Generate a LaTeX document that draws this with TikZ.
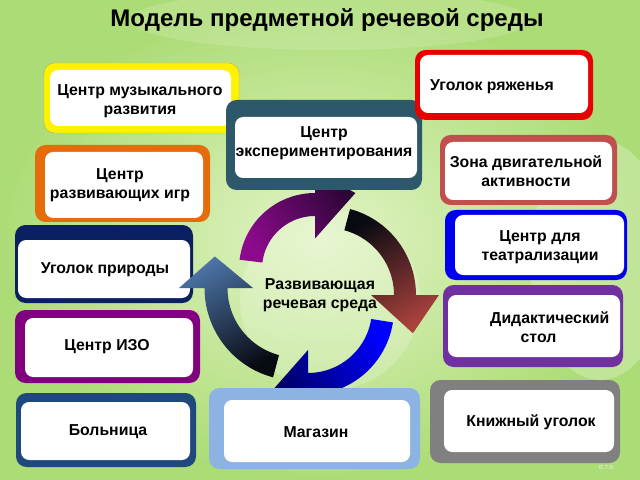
\documentclass[tikz,border=0pt]{standalone}
\usepackage{fontspec}
\setmainfont{Liberation Sans}

\definecolor{bgin}{RGB}{226,244,198}
\definecolor{bgout}{RGB}{172,220,118}
\definecolor{cteal}{RGB}{44,88,106}
\definecolor{corange}{RGB}{228,108,10}
\definecolor{cred}{RGB}{232,0,0}
\definecolor{cbrick}{RGB}{192,80,77}
\definecolor{cblue}{RGB}{0,0,240}
\definecolor{cviolet}{RGB}{112,48,160}
\definecolor{cnavy}{RGB}{10,32,96}
\definecolor{cplum}{RGB}{128,0,128}
\definecolor{csteel}{RGB}{31,73,125}
\definecolor{csky}{RGB}{141,179,226}
\definecolor{cgrey}{RGB}{128,128,128}
\definecolor{apurple}{RGB}{140,10,140}
\definecolor{apurpled}{RGB}{45,5,55}
\definecolor{ared}{RGB}{170,66,60}
\definecolor{ablue}{RGB}{0,0,255}
\definecolor{anavy}{RGB}{0,0,100}
\definecolor{asteel}{RGB}{75,115,165}
\definecolor{adark}{RGB}{8,10,18}

\newcommand{\panel}[5]{%
  \fill[#1, rounded corners=9pt] (#2) rectangle (#3);
  \fill[white, rounded corners=7pt] (#4) rectangle (#5);}

\newcommand{\cycarrow}[9]{%
  \begin{scope}[shift={(#1)}]
    \shade[#9] plot[domain=#4:#5,samples=30] ({(#2+#3)*cos(\x)},{(#2+#3)*sin(\x)})
      -- ({(#2+#8)*cos(#5)},{(#2+#8)*sin(#5)})
      -- ({#7*cos(#6)},{#7*sin(#6)})
      -- ({(#2-#8)*cos(#5)},{(#2-#8)*sin(#5)})
      -- plot[domain=#5:#4,samples=30] ({(#2-#3)*cos(\x)},{(#2-#3)*sin(\x)}) -- cycle;
  \end{scope}}

\begin{document}
\begin{tikzpicture}[x=0.03cm,y=-0.03cm,
  lbl/.style={font=\fontsize{13.5}{16.5}\selectfont\bfseries, align=center, inner sep=0pt}]
\useasboundingbox (0,0) rectangle (640,480);
\shade[inner color=bgin, outer color=bgout] (0,0) rectangle (640,480);
\fill[white, opacity=0.25] (600,260) ellipse (70 and 120);
\fill[white, opacity=0.2] (330,300) circle (90);
\fill[white, opacity=0.15] (330,20) ellipse (200 and 30);

\cycarrow{315,269}{64.5}{11.5}{187}{270}{298}{86}{34}{bottom color=apurple, top color=apurpled, shading angle=-57}
\cycarrow{308,309}{75}{11}{9}{90}{113}{86}{34}{bottom color=ablue, top color=anavy, shading angle=122}

\panel{fill=yellow, draw=olive!60}{44,63}{239,133}{50,70}{231,126}
\panel{corange}{35,145}{210,222}{45,152}{203,218}
\panel{cteal}{226,100}{422,190}{235,117}{417,178}
\panel{cred}{415,50}{593,120}{420,55}{588,113}
\panel{cbrick}{440,135}{617,205}{445,142}{612,200}
\panel{cblue}{445,210}{627,280}{455,215}{624,275}
\panel{cviolet}{443,285}{623,367}{448,295}{620,357}
\panel{cnavy}{15,225}{193,303}{18,240}{190,298}
\panel{cplum}{15,310}{200,383}{25,318}{193,377}
\panel{csteel}{16,393}{196,467}{21,402}{190,460}
\panel{csky}{209,388}{420,469}{224,400}{410,462}
\panel{cgrey}{430,380}{620,463}{444,390}{614,452}

\cycarrow{297,288}{81}{11.5}{105}{180}{201}{88}{37}{bottom color=adark, top color=asteel, shading angle=29}
\cycarrow{327,295}{78}{11}{-75}{0}{24}{94}{34}{bottom color=adark, top color=ared, shading angle=-150}

\node[font=\fontsize{20.5}{24}\selectfont\bfseries] (title) at (327,20) {Модель предметной речевой среды};
\node[lbl] (muz) at (140,101) {Центр музыкального\\развития};
\node[lbl] (igr) at (120,185) {Центр\\развивающих игр};
\node[lbl] (exper) at (324,143) {Центр\\экспериментирования};
\node[lbl] (ryazh) at (492,87) {Уголок ряженья};
\node[lbl] (dvig) at (526,171) {Зона двигательной\\активности};
\node[lbl] (teatr) at (540,247) {Центр для\\театрализации};
\node[lbl, align=left, anchor=west] (didakt) at (490,327) {Дидактический\\\hspace*{26pt}стол};
\node[lbl] (prir) at (105,270) {Уголок природы};
\node[lbl] (izo) at (107,347) {Центр ИЗО};
\node[lbl] (boln) at (108,432) {Больница};
\node[lbl] (magaz) at (316,432) {Магазин};
\node[lbl] (knizh) at (531,422) {Книжный уголок};
\node[lbl] (sreda) at (320,295) {Развивающая\\речевая среда};
\node[font=\fontsize{5}{6}\selectfont, text=white!85!gray] (sign) at (607,467) {В.Т.В.};
\end{tikzpicture}
\end{document}
